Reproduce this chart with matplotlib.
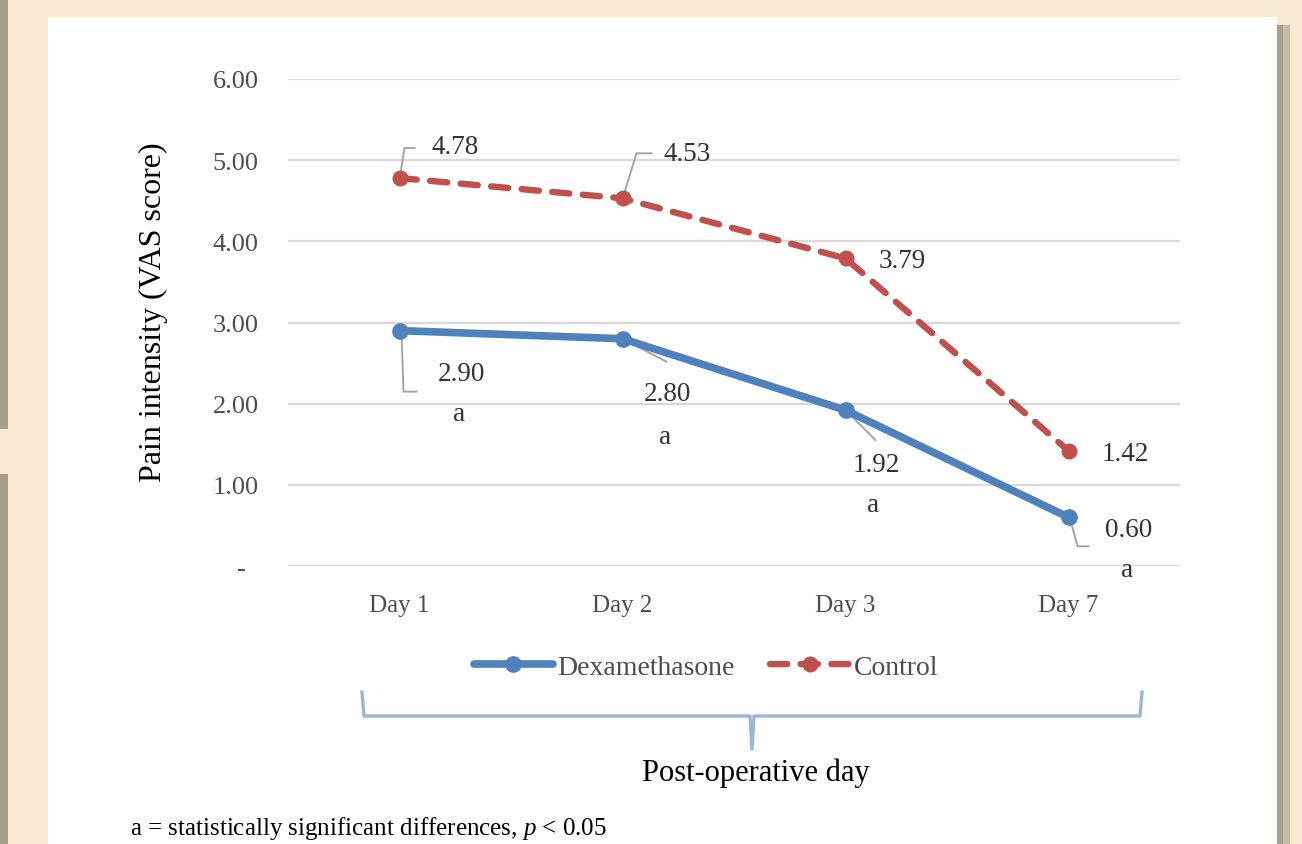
import matplotlib
matplotlib.use('Agg')
import matplotlib.pyplot as plt
import matplotlib.transforms as mtransforms
from matplotlib.patches import Rectangle
from matplotlib.lines import Line2D

plt.rcParams['font.family'] = 'Liberation Serif'
plt.rcParams['mathtext.fontset'] = 'custom'
plt.rcParams['mathtext.it'] = 'Liberation Serif:italic'
plt.rcParams['mathtext.rm'] = 'Liberation Serif'

# data
days = ['Day 1', 'Day 2', 'Day 3', 'Day 7']
dexa = [2.90, 2.80, 1.92, 0.60]
control = [4.78, 4.53, 3.79, 1.42]
dexa_sig = ['a', 'a', 'a', 'a']
y_ticks = [0, 1, 2, 3, 4, 5, 6]
y_ticklabels = ['-  ', '1.00', '2.00', '3.00', '4.00', '5.00', '6.00']

BLUE = '#4F81BD'
RED = '#C0504D'
GRID = '#D9D9D9'
LEADER = '#A5A5A5'
LABEL = '#333333'
TICK = '#4D4D4D'
BRACKET = '#9DB5D6'
BEIGE = '#F8EAD2'

W, H = 1302, 845
fig = plt.figure(figsize=(W / 100, H / 100), dpi=100, facecolor=BEIGE)


def px(x, y):
    # image pixel (y down) -> figure fraction
    return x / W, 1 - y / H


# page frame: white sheet, shadow, left edge (kept below the axes)
fig.patches.append(Rectangle((1277 / W, 0), 13 / W, 1 - 26 / H, transform=fig.transFigure,
                             facecolor='#A39886', edgecolor='none', alpha=0.9, zorder=-3))
fig.patches.append(Rectangle((1283 / W, 0), 7 / W, 1 - 26 / H, transform=fig.transFigure,
                             facecolor='#C9BCA6', edgecolor='none', zorder=-3))
fig.patches.append(Rectangle((48 / W, 0), (1277 - 48) / W, 1 - 18 / H, transform=fig.transFigure,
                             facecolor='white', edgecolor='none', zorder=-2))
for y0, y1 in [(0, 430), (475, 845)]:
    fig.patches.append(Rectangle((0, 1 - y1 / H), 8 / W, (y1 - y0) / H, transform=fig.transFigure,
                                 facecolor='#A79C8B', edgecolor='none', zorder=-3))

ax = fig.add_axes([288 / W, 1 - 567 / H, (1180 - 288) / W, (567 - 80) / H])
ax.set_facecolor('none')
x = list(range(len(days)))

ax.plot(x, dexa, color=BLUE, lw=5.5, marker='o', ms=11, solid_capstyle='round',
        label='Dexamethasone', zorder=3)
ax.plot(x, control, color=RED, lw=4.6, marker='o', ms=10.5, dashes=(2.7, 2.1),
        dash_capstyle='round', label='Control', zorder=3)

ax.set_xlim(-0.5, len(days) - 0.5)
ax.set_ylim(0, 6)
ax.set_yticks(y_ticks)
ax.set_yticklabels(y_ticklabels)
ax.set_xticks(x)
ax.set_xticklabels(days)
ax.tick_params(axis='y', length=0, pad=21, labelsize=19, labelcolor=TICK)
ax.tick_params(axis='x', length=0, pad=20, labelsize=18, labelcolor=TICK)
for s in ax.spines.values():
    s.set_visible(False)
ax.grid(axis='y', color=GRID, lw=1.6, zorder=0)
ax.set_axisbelow(True)

# data labels: text offsets and leader lines in pixels (y up) from the point
ctrl_text = [(56, 32), (65, 45), (57, -2), (57, -3)]
ctrl_lead = [[(1, 5), (5, 30), (15, 30)], [(2, 6), (14, 45), (29, 45)], None, None]
dexa_text = [(62, -43), (45, -55), (31, -54), (60, -12)]
sig_text = [(60, -83), (43, -98), (28, -94), (59, -52)]
dexa_lead = [[(2, -3), (4, -61), (17, -61)], [(0, 0), (44, -23)],
             [(2, -2), (30, -30)], [(2, -3), (9, -29), (20, -29)]]


def point_trans(xv, yv):
    return mtransforms.IdentityTransform() + mtransforms.ScaledTranslation(xv, yv, ax.transData)


def label(xv, yv, txt, off):
    ax.annotate(txt, (xv, yv), xytext=off, textcoords='offset pixels', ha='center',
                va='center', fontsize=19.5, color=LABEL, zorder=5)


def leader(xv, yv, verts):
    if verts is None:
        return
    ax.add_line(Line2D([v[0] for v in verts], [v[1] for v in verts], color=LEADER, lw=1.4,
                       transform=point_trans(xv, yv), zorder=2.5))


for i in x:
    label(i, control[i], f'{control[i]:.2f}', ctrl_text[i])
    leader(i, control[i], ctrl_lead[i])
    label(i, dexa[i], f'{dexa[i]:.2f}', dexa_text[i])
    label(i, dexa[i], dexa_sig[i], sig_text[i])
    leader(i, dexa[i], dexa_lead[i])

leg = fig.legend(loc='center', bbox_to_anchor=px(706, 668), ncol=2, frameon=False,
                 fontsize=20, handlelength=2.85, handletextpad=0.15, columnspacing=1.3)
for t in leg.get_texts():
    t.set_color(TICK)

# bracket under the chart
bx = [362, 364, 750, 752, 754, 1140, 1142]
by = [693, 717, 717, 750, 717, 717, 693]
fig.add_artist(Line2D([b / W for b in bx], [1 - b / H for b in by], color=BRACKET, lw=2.4,
                      transform=fig.transFigure, solid_joinstyle='round'))

fig.text(*px(756, 773), 'Post-operative day', ha='center', va='center', fontsize=22, color='black')
fig.text(*px(153, 312), 'Pain intensity (VAS score)', ha='center', va='center', rotation=90,
         fontsize=23, color='black')
fig.text(*px(130, 829), 'a = statistically significant differences, $p$ < 0.05', ha='left',
         va='center', fontsize=18, color='black')

fig.savefig('out.png', dpi=100, facecolor=BEIGE)
